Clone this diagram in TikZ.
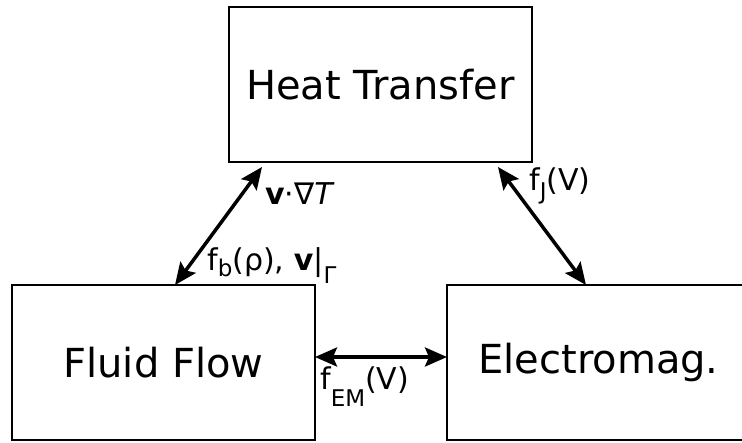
\documentclass[tikz,border=0pt]{standalone}
\usepackage{fontspec}
\setmainfont{DejaVu Sans}
\usetikzlibrary{arrows.meta,calc}
\tikzset{
 box/.style={draw, line width=2.6pt, minimum width=303pt, minimum height=155pt, inner sep=0pt, outer sep=0pt, font=\fontsize{40}{48}\selectfont},
 link/.style={line width=3.5pt, {Stealth[length=22pt,width=19pt,inset=4pt]}-{Stealth[length=22pt,width=19pt,inset=4pt]}},
 lbl/.style={anchor=base west, inner sep=0pt, font=\fontsize{30}{34}\selectfont},
}
\newcommand{\mysub}[2]{\raisebox{-#1pt}{\fontsize{23}{23}\selectfont #2}}
\begin{document}
\begin{tikzpicture}[x=1pt,y=-1pt]
\useasboundingbox (0,0) rectangle (742,442);
\node[box] (heat) at (380.5,84.5) {Heat Transfer};
\node[box] (fluid) at (163.5,362.5) {Fluid Flow};
\node[box] (em) at (598.5,362.5) {Electromag.};
\draw[link] ([xshift=163pt]fluid.north west) -- ([shift={(33,5)}]heat.south west);
\draw[link] ([shift={(269,5)}]heat.south west) -- ([xshift=139pt]em.north west);
\draw[link] ([yshift=5.5pt]fluid.east) -- ([yshift=5.5pt]em.west);
\node[lbl] (l1) at (265,204) {\textbf{v}·∇\textit{T}};
\node[lbl] (l2) at (207,270) {f\mysub{6}{b}(ρ), \textbf{v}|\mysub{13}{Γ}};
\node[lbl] (l3) at (529,190) {f\mysub{9}{J}(V)};
\node[lbl] (l4) at (320,389) {f\mysub{17}{EM}(V)};
\end{tikzpicture}
\end{document}
